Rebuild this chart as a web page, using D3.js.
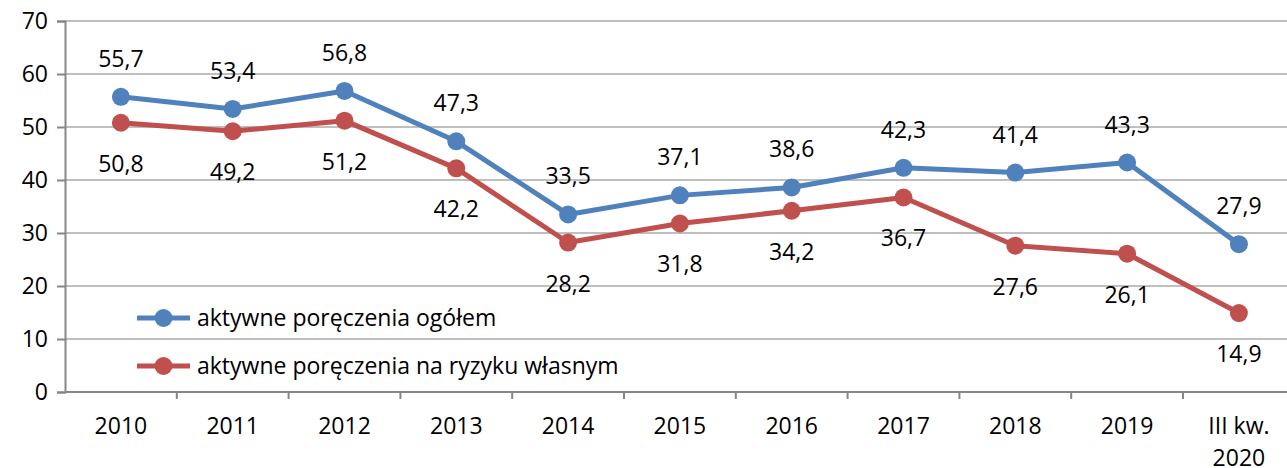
<!DOCTYPE html>
<meta charset="utf-8">
<script src="https://d3js.org/d3.v7.min.js"></script>
<style>
  body { margin: 0; background: #fff; }
  text { font-family: "Open Sans", sans-serif; fill: #000; }
</style>
<div id="my_dataviz"></div>
<script>

    // categories and values
    var categories = ["2010", "2011", "2012", "2013", "2014", "2015", "2016", "2017", "2018", "2019", "III kw.|2020"];
    var ogolem = [55.7, 53.4, 56.8, 47.3, 33.5, 37.1, 38.6, 42.3, 41.4, 43.3, 27.9];
    var wlasne = [50.8, 49.2, 51.2, 42.2, 28.2, 31.8, 34.2, 36.7, 27.6, 26.1, 14.9];
    var yTicks = [0, 10, 20, 30, 40, 50, 60, 70];
    var seriesNames = ["aktywne poręczenia ogółem", "aktywne poręczenia na ryzyku własnym"];

    var W = 1287, H = 468;
    var plotLeft = 65, plotTop = 21, plotBottom = 392;
    var fs = "23px";

    var svg = d3.select("#my_dataviz")
        .append("svg")
        .attr("width", W)
        .attr("height", H);

    var x = d3.scaleBand()
        .domain(categories)
        .range([plotLeft, plotLeft + 11 * 111.8]);

    var y = d3.scaleLinear()
        .domain([0, 70])
        .range([plotBottom, plotTop]);

    // gridlines
    svg.append("g")
        .selectAll("line")
        .data(yTicks.filter(function(d) { return d > 0; }))
        .enter()
        .append("line")
        .attr("x1", plotLeft).attr("x2", W)
        .attr("y1", function(d) { return y(d); })
        .attr("y2", function(d) { return y(d); })
        .attr("stroke", "#bfbfbf")
        .attr("stroke-width", 2);

    // Y axis
    var yAxis = svg.append("g")
        .attr("transform", "translate(" + plotLeft + ",0)")
        .call(d3.axisLeft(y).tickValues(yTicks).tickSize(8).tickPadding(9));
    yAxis.selectAll("text").style("font-size", fs);
    yAxis.selectAll("line").attr("stroke", "#868686").attr("stroke-width", 2);
    yAxis.select(".domain").attr("stroke", "#868686").attr("stroke-width", 2);

    // X axis
    var xAxis = svg.append("g")
        .attr("transform", "translate(0," + plotBottom + ")");
    xAxis.append("line")
        .attr("x1", plotLeft).attr("x2", W)
        .attr("stroke", "#868686").attr("stroke-width", 2);
    xAxis.selectAll(".tk")
        .data(categories)
        .enter()
        .append("line")
        .attr("class", "tk")
        .attr("x1", function(d) { return x(d) + x.bandwidth(); })
        .attr("x2", function(d) { return x(d) + x.bandwidth(); })
        .attr("y1", 0).attr("y2", 7)
        .attr("stroke", "#868686").attr("stroke-width", 2);
    var lbl = xAxis.selectAll(".lbl")
        .data(categories)
        .enter()
        .append("text")
        .attr("class", "lbl")
        .attr("text-anchor", "middle")
        .style("font-size", fs)
        .attr("transform", function(d) { return "translate(" + (x(d) + x.bandwidth() / 2) + ",0)"; });
    lbl.selectAll("tspan")
        .data(function(d) { return d.split("|"); })
        .enter()
        .append("tspan")
        .attr("x", 0)
        .attr("y", function(d, i) { return 42 + i * 32; })
        .text(function(d) { return d; });

    var series = [
        {name: seriesNames[0], values: ogolem, color: "#4f81bd", dy: -30},
        {name: seriesNames[1], values: wlasne, color: "#c0504d", dy: 49}
    ];

    var line = d3.line()
        .x(function(d, i) { return x(categories[i]) + x.bandwidth() / 2; })
        .y(function(d) { return y(d); });

    series.forEach(function(s) {
        svg.append("path")
            .datum(s.values)
            .attr("d", line)
            .attr("fill", "none")
            .attr("stroke", s.color)
            .attr("stroke-width", 5)
            .attr("stroke-linejoin", "round");

        svg.append("g")
            .selectAll("circle")
            .data(s.values)
            .enter()
            .append("circle")
            .attr("cx", function(d, i) { return x(categories[i]) + x.bandwidth() / 2; })
            .attr("cy", function(d) { return y(d); })
            .attr("r", 9)
            .attr("fill", s.color);

        svg.append("g")
            .selectAll("text")
            .data(s.values)
            .enter()
            .append("text")
            .attr("x", function(d, i) { return x(categories[i]) + x.bandwidth() / 2; })
            .attr("y", function(d) { return y(d) + s.dy; })
            .attr("text-anchor", "middle")
            .style("font-size", fs)
            .text(function(d) { return d.toFixed(1).replace(".", ","); });
    });

    // legend
    var legend = svg.append("g")
        .selectAll("g")
        .data(series)
        .enter()
        .append("g")
        .attr("transform", function(d, i) { return "translate(137," + (318 + i * 48) + ")"; });
    legend.append("line")
        .attr("x1", 0).attr("x2", 53)
        .attr("stroke", function(d) { return d.color; })
        .attr("stroke-width", 5);
    legend.append("circle")
        .attr("cx", 26.5).attr("r", 9)
        .attr("fill", function(d) { return d.color; });
    legend.append("text")
        .attr("x", 60)
        .attr("y", 8)
        .style("font-size", fs)
        .text(function(d) { return d.name; });

</script>
